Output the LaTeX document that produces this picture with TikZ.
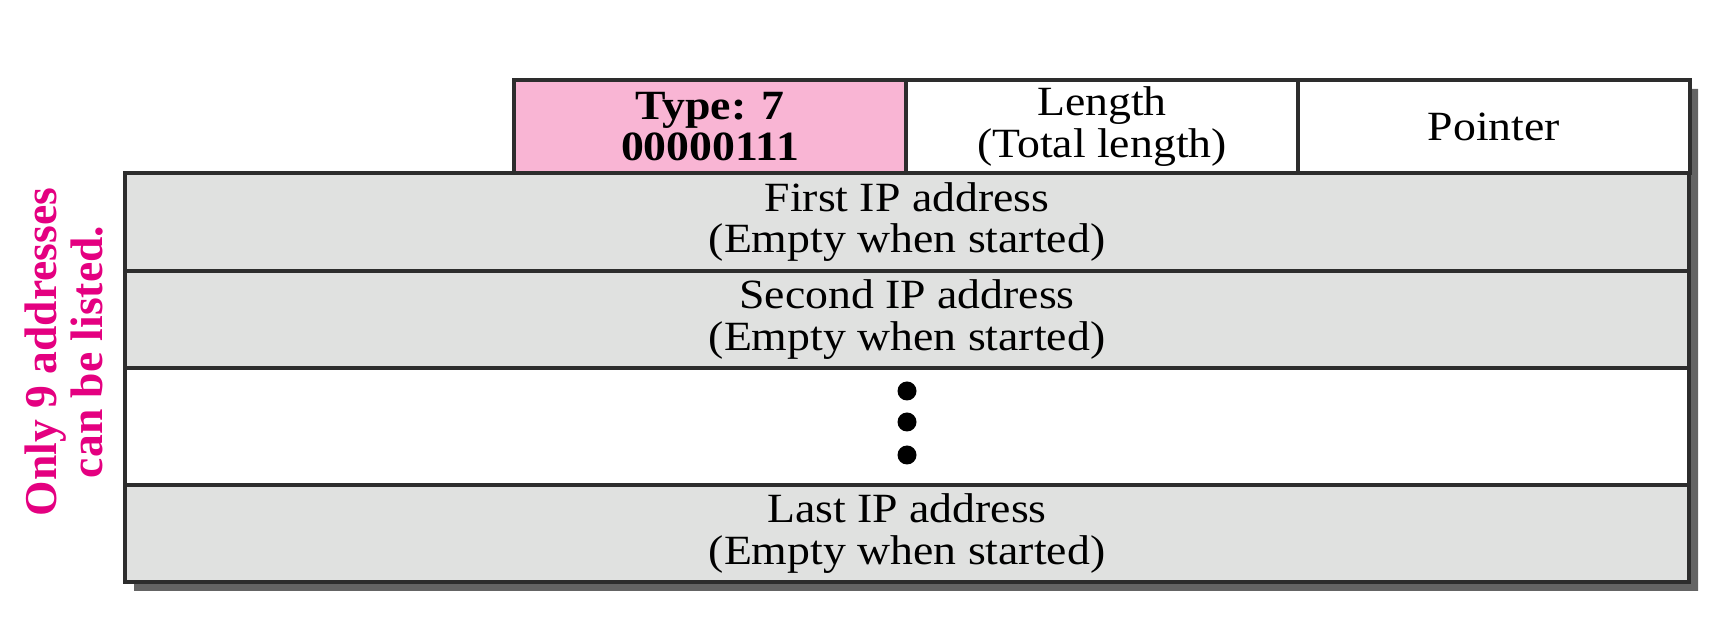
\documentclass[tikz,border=0pt]{standalone}
\usepackage{fontspec}
\setmainfont{Liberation Serif}[FakeStretch=1.1]
\newfontfamily\notefont{Liberation Serif}
\definecolor{typepink}{RGB}{249,181,212}
\definecolor{rowgray}{RGB}{224,225,224}
\definecolor{edgegray}{RGB}{45,45,45}
\definecolor{shadowgray}{RGB}{100,100,100}
\definecolor{notemagenta}{RGB}{228,0,128}
\tikzset{
  cell/.style={draw=edgegray, line width=0.8pt, inner sep=0pt, outer sep=0pt,
    anchor=north west, align=center, minimum height={#1*0.25pt},
    font=\fontsize{10.4}{10.3}\selectfont},
  topcell/.style={cell=93, minimum width={392*0.25pt}},
  rowcell/.style={cell=#1, minimum width={1564*0.25pt}, fill=rowgray},
  dot/.style={circle, fill=black, inner sep=0pt, minimum size={19*0.25pt}}
}
\begin{document}
\begin{tikzpicture}[x=0.25pt, y=-0.25pt]
  \useasboundingbox (0,0) rectangle (1730,627);
  \fill[shadowgray] (523,89) -- (1698,89) -- (1698,591) -- (134,591) -- (134,182) -- (523,182) -- cycle;
  \node[topcell, fill=typepink, font=\fontsize{10.4}{10.3}\selectfont\bfseries] (type) at (514,80) {Type: 7\\00000111};
  \node[topcell, fill=white] (length) at (906,80) {Length\\(Total length)};
  \node[topcell, fill=white] (pointer) at (1298,80) {Pointer};
  \node[rowcell=98] (first) at (125,173) {First IP address\\(Empty when started)};
  \node[rowcell=97] (second) at (125,271) {Second IP address\\(Empty when started)};
  \node[rowcell=117, fill=white] (middle) at (125,368) {};
  \node[rowcell=97] (last) at (125,485) {Last IP address\\(Empty when started)};
  \node[dot] (dota) at (907,391) {};
  \node[dot] (dotb) at (907,422) {};
  \node[dot] (dotc) at (907,455) {};
  \node[rotate=90, align=center, text=notemagenta, inner sep=0pt,
    font=\notefont\fontsize{11.4}{9.6}\selectfont\bfseries] (note) at (64,352)
    {Only 9 addresses\\can be listed.};
\end{tikzpicture}
\end{document}
